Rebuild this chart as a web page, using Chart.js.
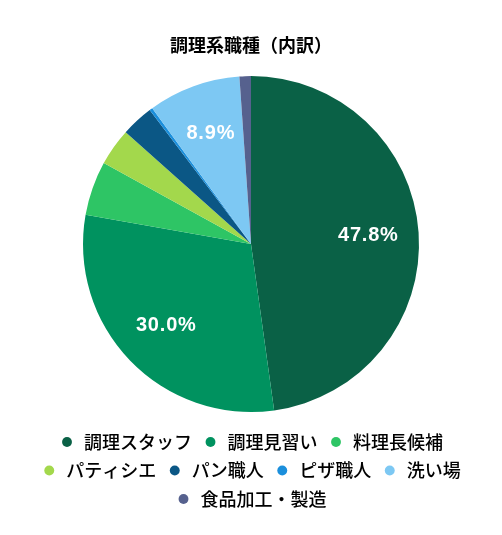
<!DOCTYPE html>
<html lang="ja">
<head>
<meta charset="utf-8">
<title>調理系職種（内訳）</title>
<script src="https://cdn.jsdelivr.net/npm/chart.js@4.4.1/dist/chart.umd.min.js"></script>
<style>
    html, body { margin: 0; padding: 0; background: #fff; }
    #wrap { width: 502px; height: 535px; position: relative; }
</style>
</head>
<body>
<div id="wrap"><canvas id="job-chart"></canvas></div>
<script>
const categories = ['調理スタッフ', '調理見習い', '料理長候補', 'パティシエ', 'パン職人', 'ピザ職人', '洗い場', '食品加工・製造'];
const shares = [47.8, 30.0, 5.2, 3.6, 3.1, 0.3, 8.9, 1.1];
const sliceColors = ['#0a6146', '#00925f', '#2ec565', '#a3d84c', '#0b5785', '#1b8fdc', '#7dc8f3', '#56618e'];
const labelMin = 8; // only big slices get a value label

// draws the white percentage text inside the large slices
const sliceLabels = {
    id: 'sliceLabels',
    afterDatasetsDraw(chart) {
        const ctx = chart.ctx;
        const meta = chart.getDatasetMeta(0);
        ctx.save();
        ctx.fillStyle = '#fff';
        ctx.font = 'bold 20px "Liberation Sans", Arial, sans-serif';
        ctx.letterSpacing = '0.8px';
        ctx.textAlign = 'center';
        ctx.textBaseline = 'middle';
        meta.data.forEach((arc, i) => {
            const v = shares[i];
            if (v < labelMin) return;
            const p = arc.getProps(['x', 'y', 'startAngle', 'endAngle', 'outerRadius'], true);
            const mid = (p.startAngle + p.endAngle) / 2;
            const r = p.outerRadius * 0.7;
            ctx.fillText(v.toFixed(1) + '%', p.x + Math.cos(mid) * r, p.y + Math.sin(mid) * r);
        });
        ctx.restore();
    }
};

new Chart(document.getElementById('job-chart'), {
    type: 'pie',
    data: {
        labels: categories,
        datasets: [{
            data: shares,
            backgroundColor: sliceColors,
            borderWidth: 0,
            radius: 168
        }]
    },
    options: {
        responsive: true,
        maintainAspectRatio: false,
        animation: false,
        layout: { padding: { top: 0, bottom: 17, left: 0, right: 0 } },
        plugins: {
            title: {
                display: true,
                text: '調理系職種（内訳）',
                color: '#000',
                font: { family: '"Noto Sans CJK JP", sans-serif', size: 18, weight: 'bold' },
                padding: { top: 34, bottom: 10 }
            },
            legend: {
                position: 'bottom',
                labels: {
                    usePointStyle: true,
                    pointStyle: 'circle',
                    boxWidth: 16,
                    boxHeight: 7,
                    padding: 10.5,
                    color: '#000',
                    font: { family: '"Noto Sans CJK JP", sans-serif', size: 18, weight: '500' }
                }
            },
            tooltip: { enabled: false }
        }
    },
    plugins: [sliceLabels]
});
</script>
</body>
</html>
